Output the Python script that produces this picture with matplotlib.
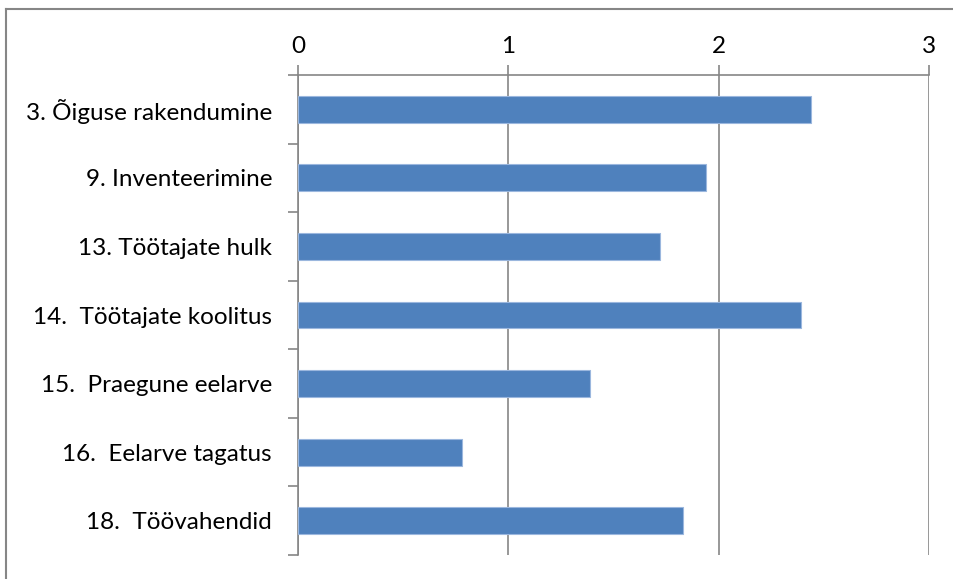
import matplotlib.pyplot as plt
from matplotlib.lines import Line2D

categories = ["3. Õiguse rakendumine", "9. Inventeerimine", "13. Töötajate hulk",
              "14.  Töötajate koolitus", "15.  Praegune eelarve", "16.  Eelarve tagatus",
              "18.  Töövahendid"]
values = [2.44, 1.94, 1.72, 2.39, 1.39, 0.78, 1.83]
xticks = [0, 1, 2, 3]

plt.rcParams['font.family'] = ['Lato', 'DejaVu Sans']
grey = '#868686'

fig = plt.figure(figsize=(9.54, 5.79), dpi=100)
ax = fig.add_axes([298/954, 1 - 555/579, (929 - 298)/954, (555 - 75)/579])

# outer chart frame (only left and top are visible in the crop)
fig.add_artist(Line2D([6/954, 6/954], [0, 1 - 9/579], color=grey, lw=1.5, transform=fig.transFigure))
fig.add_artist(Line2D([6/954, 1], [1 - 9/579, 1 - 9/579], color=grey, lw=1.5, transform=fig.transFigure))

y = list(range(len(categories)))
ax.barh(y, values, height=0.39, color='#4f81bd', edgecolor='#9bb7de', linewidth=0.8, zorder=3)
ax.set_ylim(len(categories) - 0.5, -0.5)
ax.set_xlim(0, 3)

ax.xaxis.tick_top()
ax.set_xticks(xticks)
ax.set_xticklabels([str(t) for t in xticks], fontsize=17.5)
ax.grid(axis='x', color=grey, lw=1.2, zorder=0)

ax.set_yticks(y)
ax.set_yticklabels(categories, fontsize=17.5)
ax.set_yticks([i - 0.5 for i in range(len(categories) + 1)], minor=True)
ax.tick_params(axis='y', which='major', length=0, pad=18.7)
ax.tick_params(axis='y', which='minor', length=7, width=1.2, color=grey)
ax.tick_params(axis='x', length=7, width=1.2, color=grey, pad=6)

for s in ['right', 'bottom']:
    ax.spines[s].set_visible(False)
for s in ['left', 'top']:
    ax.spines[s].set_color(grey)
    ax.spines[s].set_linewidth(1.2)

fig.savefig('out.png', dpi=100)
